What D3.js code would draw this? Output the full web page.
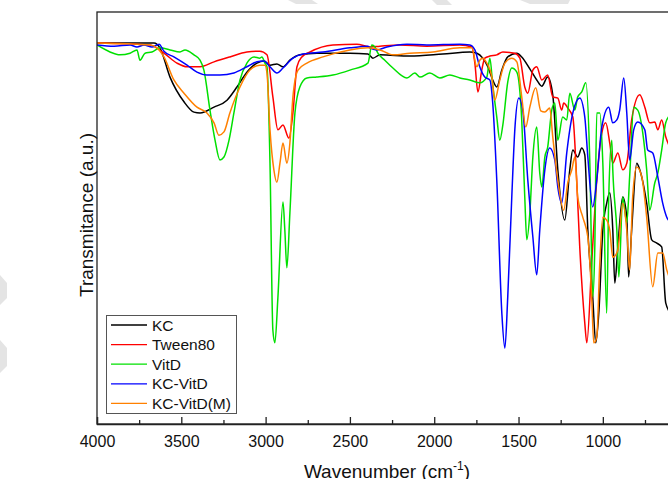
<!DOCTYPE html>
<html>
<head>
<meta charset="utf-8">
<script src="https://cdn.jsdelivr.net/npm/d3@7"></script>
<style>
  html, body { margin: 0; padding: 0; background: #ffffff; }
  svg { display: block; }
</style>
</head>
<body>
<div id="chart"></div>
<script>
// ---- data (wavenumber cm-1, transmittance a.u.) ----
const seriesNames = ["KC", "Tween80", "VitD", "KC-VitD", "KC-VitD(M)"];
const seriesColors = ["#000000", "#ff0000", "#00e000", "#0000ff", "#ff8000"];
const xTicksMajor = [4000, 3500, 3000, 2500, 2000, 1500, 1000];
const xTicksMinor = [3750, 3250, 2750, 2250, 1750, 1250, 750];

const KC = [[4000,92.5],[3662,92.5],[3627,91.3],[3567,84.2],[3484,78.2],[3425,75.7],[3389,75.5],[3306,76.9],[3229,78.6],[3170,81.8],[3111,85.4],[3051,87.6],[3010,88.1],[2974,87.1],[2933,87.4],[2897,86.7],[2856,88.3],[2797,89.6],[2696,90.0],[2500,90.0],[2393,89.8],[2364,88.8],[2322,89.6],[2145,89.3],[1949,89.8],[1789,90.3],[1747,90.0],[1712,88.8],[1682,86.7],[1653,83.5],[1629,81.8],[1599,85.9],[1564,89.1],[1510,90.0],[1481,89.1],[1433,86.2],[1392,83.5],[1362,82.0],[1327,84.2],[1297,79.9],[1267,61.7],[1226,49.5],[1196,61.7],[1178,66.5],[1149,64.8],[1125,67.0],[1107,65.3],[1089,47.1],[1060,30.8],[1042,19.7],[1024,26.9],[1000,47.1],[977,53.6],[959,56.1],[941,47.1],[929,34.2],[911,43.0],[882,55.1],[858,50.2],[847,35.7],[829,47.1],[799,63.3],[781,61.7],[740,53.6],[710,44.7],[680,43.9],[651,43.0],[627,29.4],[600,27.0]];

const Tween80 = [[4000,92.5],[3686,92.0],[3603,90.0],[3526,87.6],[3466,86.7],[3389,86.7],[3306,87.9],[3212,89.1],[3111,90.3],[3034,90.5],[2992,89.6],[2957,79.4],[2927,71.4],[2897,72.6],[2862,69.4],[2838,75.5],[2814,86.7],[2785,89.1],[2737,90.3],[2601,92.0],[2459,92.2],[2382,91.5],[2322,91.7],[2204,92.0],[2044,91.7],[1848,92.0],[1777,91.5],[1759,87.6],[1741,80.6],[1718,85.9],[1700,88.8],[1670,89.3],[1629,89.6],[1593,90.3],[1522,90.0],[1492,88.8],[1463,81.8],[1445,80.3],[1415,85.9],[1392,86.7],[1362,83.5],[1327,84.7],[1297,79.4],[1267,79.1],[1244,76.2],[1232,77.9],[1208,76.7],[1178,74.5],[1155,59.2],[1137,43.0],[1107,24.5],[1095,19.7],[1066,39.1],[1036,59.2],[1006,70.6],[983,73.1],[959,68.2],[941,63.3],[911,65.8],[882,61.7],[858,63.3],[829,73.8],[781,79.9],[751,76.9],[722,73.1],[692,73.3],[674,71.4],[651,73.8],[627,69.7],[600,67.0]];

const VitD = [[4000,92.0],[3923,90.3],[3864,89.6],[3804,90.0],[3763,90.8],[3745,88.3],[3715,90.0],[3674,90.3],[3627,91.3],[3567,90.8],[3508,90.3],[3478,90.8],[3425,89.6],[3389,88.3],[3366,85.9],[3330,76.2],[3300,68.9],[3271,64.1],[3247,64.8],[3217,68.9],[3188,75.5],[3152,83.5],[3111,87.6],[3069,89.1],[3034,88.8],[3022,89.1],[3004,87.6],[2992,86.7],[2974,63.3],[2957,22.8],[2945,19.7],[2927,30.8],[2897,53.9],[2886,47.1],[2874,37.9],[2856,51.2],[2826,75.5],[2797,81.8],[2755,84.0],[2696,84.2],[2601,84.7],[2500,85.9],[2393,87.6],[2370,92.0],[2352,91.5],[2334,90.0],[2293,88.3],[2245,86.4],[2162,84.0],[2115,85.2],[2085,84.2],[2026,85.2],[1967,84.0],[1907,84.7],[1848,84.0],[1789,83.5],[1730,82.8],[1688,84.2],[1670,88.8],[1653,82.3],[1629,74.5],[1611,68.9],[1593,72.6],[1564,83.0],[1540,86.4],[1510,85.4],[1481,73.8],[1463,55.1],[1451,44.7],[1433,51.2],[1415,64.8],[1392,72.1],[1374,60.9],[1362,57.5],[1344,64.8],[1327,67.2],[1303,76.2],[1285,77.9],[1267,68.9],[1238,74.5],[1214,73.8],[1196,80.3],[1166,76.2],[1149,79.4],[1125,80.6],[1101,82.8],[1077,63.3],[1060,30.8],[1048,42.2],[1036,75.5],[1018,75.5],[1000,63.3],[977,26.9],[965,55.1],[947,68.9],[941,61.7],[917,47.1],[905,35.7],[882,55.1],[858,48.8],[841,60.0],[817,76.9],[793,76.2],[763,70.6],[740,61.7],[722,51.9],[692,58.5],[674,60.9],[651,66.5],[627,73.1],[600,75.0]];

const KC_VitD = [[4000,92.0],[3899,91.7],[3804,92.0],[3763,91.5],[3721,92.0],[3674,91.5],[3632,92.2],[3603,90.5],[3544,89.1],[3466,87.1],[3407,85.4],[3348,84.7],[3271,84.7],[3188,85.2],[3111,86.7],[3051,87.9],[3010,88.1],[2974,86.7],[2933,85.2],[2897,86.4],[2838,88.8],[2779,89.8],[2660,90.3],[2500,91.3],[2393,91.7],[2382,91.3],[2340,90.8],[2281,91.5],[2162,92.2],[2044,92.0],[1848,92.2],[1789,92.0],[1759,90.8],[1730,86.7],[1700,84.2],[1670,83.5],[1653,77.9],[1629,59.2],[1599,26.9],[1581,18.4],[1564,30.8],[1540,55.1],[1522,71.4],[1498,79.1],[1475,76.2],[1445,59.2],[1415,45.4],[1392,36.2],[1374,47.1],[1344,61.7],[1315,67.0],[1285,64.1],[1267,57.5],[1244,53.6],[1214,65.8],[1178,75.5],[1137,79.1],[1107,74.5],[1089,64.8],[1060,52.7],[1036,59.2],[1006,72.1],[965,76.9],[941,73.1],[917,73.8],[900,76.2],[876,84.0],[858,75.5],[841,64.1],[817,71.4],[793,73.3],[751,71.4],[734,66.5],[704,65.8],[674,60.0],[645,53.6],[621,50.2],[600,49.0]];

const KC_VitD_M = [[4000,92.5],[3686,92.0],[3644,91.3],[3603,89.1],[3544,83.5],[3484,80.3],[3407,76.9],[3348,75.5],[3306,73.1],[3277,70.1],[3247,70.9],[3212,75.5],[3152,81.8],[3093,85.9],[3034,87.1],[3004,87.1],[2992,85.2],[2974,71.4],[2951,61.7],[2933,58.7],[2915,63.3],[2897,68.2],[2874,63.3],[2856,68.2],[2838,79.4],[2808,85.9],[2755,87.6],[2660,89.1],[2500,90.8],[2393,91.3],[2322,90.8],[2245,89.6],[2145,90.0],[2008,90.3],[1848,91.3],[1777,91.3],[1747,86.7],[1730,88.3],[1712,88.8],[1688,87.6],[1658,84.2],[1641,78.6],[1611,83.5],[1581,87.6],[1540,88.8],[1510,87.9],[1481,79.4],[1457,72.1],[1433,76.9],[1398,81.6],[1368,76.0],[1344,75.7],[1315,76.7],[1297,69.7],[1267,59.2],[1232,51.9],[1208,58.5],[1184,61.7],[1166,64.8],[1149,55.1],[1119,50.2],[1089,45.4],[1066,30.8],[1054,19.7],[1036,21.1],[1018,39.1],[1000,50.2],[977,49.5],[959,47.1],[941,40.5],[911,42.2],[882,53.6],[858,47.1],[841,37.4],[823,55.1],[799,62.4],[769,60.0],[740,50.2],[704,33.3],[674,41.5],[645,41.5],[621,37.4],[600,35.0]];

const seriesData = [KC, Tween80, VitD, KC_VitD, KC_VitD_M];

// ---- layout ----
const W = 668, H = 479;
const plot = { left: 97, top: 12, right: 704, bottom: 424 };

const svg = d3.select("#chart").append("svg")
  .attr("width", W).attr("height", H)
  .style("font-family", "Arial, 'Liberation Sans', Helvetica, sans-serif");

// faint watermark fragments in the margins
const wm = svg.append("g").attr("fill", "#e4e4e4");
wm.append("path").attr("d", "M288,0 L312,0 L318,4 L296,4 Z");
wm.append("path").attr("d", "M432,0 L447,0 L452,5 L437,5 Z");
wm.append("path").attr("d", "M520,0 L570,0 L568,4 L530,4 Z");
wm.append("path").attr("d", "M0,275 L7,283 L7,298 L0,305 Z");
wm.append("path").attr("d", "M0,340 L7,348 L7,366 L0,373 Z");

const x = d3.scaleLinear().domain([4000, 400]).range([plot.left, plot.right]);
const y = d3.scaleLinear().domain([0, 100]).range([plot.bottom, plot.top]);

svg.append("defs").append("clipPath").attr("id", "clip")
  .append("rect")
  .attr("x", plot.left).attr("y", plot.top)
  .attr("width", plot.right - plot.left).attr("height", plot.bottom - plot.top);

// lines
const line = d3.line()
  .x(d => x(d[0])).y(d => y(d[1]))
  .curve(d3.curveMonotoneX);

const lines = svg.append("g").attr("clip-path", "url(#clip)");
seriesData.forEach((data, i) => {
  lines.append("path")
    .datum(data)
    .attr("fill", "none")
    .attr("stroke", seriesColors[i])
    .attr("stroke-width", 1.5)
    .attr("stroke-linejoin", "round")
    .attr("d", line);
});

// frame
svg.append("rect")
  .attr("x", plot.left).attr("y", plot.top)
  .attr("width", plot.right - plot.left).attr("height", plot.bottom - plot.top)
  .attr("fill", "none").attr("stroke", "#222").attr("stroke-width", 1.3);

// bottom axis (ticks pointing inward)
const xAxis = d3.axisBottom(x).tickValues(xTicksMajor).tickSize(-7).tickPadding(12)
  .tickFormat(d3.format("d"));
const gx = svg.append("g").attr("transform", `translate(0,${plot.bottom})`).call(xAxis);
gx.select(".domain").attr("stroke", "#222").attr("stroke-width", 1.3);
gx.selectAll(".tick line").attr("stroke", "#222").attr("stroke-width", 1.3);
gx.selectAll(".tick text").attr("font-size", "16px").attr("fill", "#111")
  .style("font-family", "Arial, 'Liberation Sans', sans-serif");

const xAxisMinor = d3.axisBottom(x).tickValues(xTicksMinor).tickSize(-4).tickFormat("");
const gxm = svg.append("g").attr("transform", `translate(0,${plot.bottom})`).call(xAxisMinor);
gxm.select(".domain").remove();
gxm.selectAll(".tick line").attr("stroke", "#222").attr("stroke-width", 1.3);

// axis titles
const xt = svg.append("text")
  .attr("x", 387).attr("y", 478)
  .attr("text-anchor", "middle")
  .attr("font-size", "19px").attr("fill", "#111");
xt.append("tspan").text("Wavenumber (cm");
xt.append("tspan").attr("font-size", "12px").attr("dy", -8).text("-1");
xt.append("tspan").attr("dy", 8).text(")");

svg.append("text")
  .attr("transform", "translate(93,215) rotate(-90)")
  .attr("text-anchor", "middle")
  .attr("font-size", "19px").attr("fill", "#111")
  .text("Transmitance (a.u.)");

// legend
const lg = svg.append("g");
lg.append("rect")
  .attr("x", 106.5).attr("y", 315.5).attr("width", 130).attr("height", 98)
  .attr("fill", "#ffffff").attr("stroke", "#555").attr("stroke-width", 1);
seriesNames.forEach((name, i) => {
  const yy = 325 + i * 19.6;
  lg.append("line")
    .attr("x1", 111).attr("x2", 147).attr("y1", yy).attr("y2", yy)
    .attr("stroke", seriesColors[i]).attr("stroke-width", 1.3);
  lg.append("text")
    .attr("x", 152).attr("y", yy).attr("dy", "0.36em")
    .attr("font-size", "15.5px").attr("fill", "#111")
    .text(name);
});
</script>
</body>
</html>
